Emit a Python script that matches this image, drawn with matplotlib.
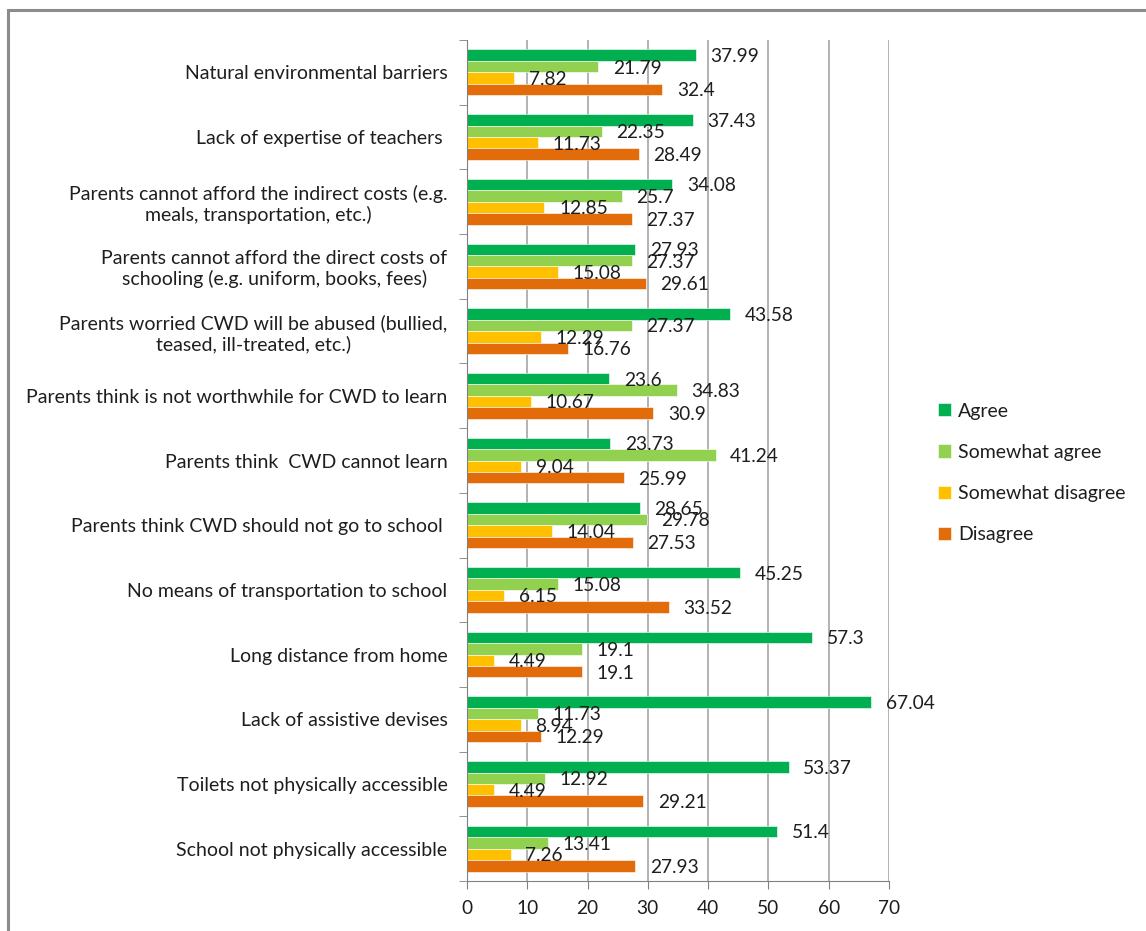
import matplotlib
matplotlib.use("Agg")
import matplotlib.pyplot as plt
import numpy as np
from matplotlib.patches import Rectangle

categories = [
    "Natural environmental barriers",
    "Lack of expertise of teachers ",
    "Parents cannot afford the indirect costs (e.g.\nmeals, transportation, etc.)",
    "Parents cannot afford the direct costs of\nschooling (e.g. uniform, books, fees)",
    "Parents worried CWD will be abused (bullied,\nteased, ill-treated, etc.)",
    "Parents think is not worthwhile for CWD to learn",
    "Parents think  CWD cannot learn",
    "Parents think CWD should not go to school ",
    "No means of transportation to school",
    "Long distance from home",
    "Lack of assistive devises",
    "Toilets not physically accessible",
    "School not physically accessible",
]
series_names = ["Agree", "Somewhat agree", "Somewhat disagree", "Disagree"]
agree = [37.99, 37.43, 34.08, 27.93, 43.58, 23.6, 23.73, 28.65, 45.25, 57.3, 67.04, 53.37, 51.4]
somewhat_agree = [21.79, 22.35, 25.7, 27.37, 27.37, 34.83, 41.24, 29.78, 15.08, 19.1, 11.73, 12.92, 13.41]
somewhat_disagree = [7.82, 11.73, 12.85, 15.08, 12.29, 10.67, 9.04, 14.04, 6.15, 4.49, 8.94, 4.49, 7.26]
disagree = [32.4, 28.49, 27.37, 29.61, 16.76, 30.9, 25.99, 27.53, 33.52, 19.1, 12.29, 29.21, 27.93]
x_ticks = [0, 10, 20, 30, 40, 50, 60, 70]

colors = ["#00B050", "#92D050", "#FFC000", "#E36C0A"]
series = [agree, somewhat_agree, somewhat_disagree, disagree]

plt.rcParams['font.family'] = ['Lato', 'DejaVu Sans']
TXT = "#1e1e1e"

fig = plt.figure(figsize=(11.46, 9.31), dpi=100)
W, H = 1146, 931
# outer border
fig.patches.append(Rectangle((8 / W, -0.1), 1.2, 1.1 - 10 / H, transform=fig.transFigure,
                             fill=False, edgecolor="#8c8c8c", linewidth=2.2))

ax = fig.add_axes([467 / W, 1 - 881 / H, (889 - 467) / W, (881 - 40) / H])
n = len(categories)
bar_h = 1 / 5.65
centers = np.arange(n)[::-1] + 0.5  # top category at top
for j, (vals, col, name) in enumerate(zip(series, colors, series_names)):
    y = centers + (1.5 - j) * bar_h
    ax.barh(y, vals, height=bar_h, color=col, label=name, edgecolor="white", linewidth=0.4)
    for yy, v in zip(y, vals):
        ax.annotate(f"{v:g}", (v, yy), xytext=(10.5, -1), textcoords="offset points",
                    ha="left", va="center", fontsize=13.8, color=TXT)

ax.set_xlim(0, 70)
ax.set_ylim(0, n)
ax.set_xticks(x_ticks)
ax.set_xticklabels([str(t) for t in x_ticks], fontsize=13.8, color=TXT)
ax.set_yticks(centers)
ax.set_yticklabels(categories, fontsize=14, color=TXT, ha="right", multialignment="center")
ax.tick_params(axis="y", length=0, pad=14)
ax.set_yticks(np.arange(n + 1), minor=True)
ax.tick_params(axis="y", which="minor", length=6, color="#808080", direction="out")
ax.tick_params(axis="x", length=6, color="#808080", direction="out", pad=8)
ax.grid(axis="x", color="#a6a6a6", linewidth=1.2)
ax.set_axisbelow(True)
for s in ["top", "right"]:
    ax.spines[s].set_visible(False)
ax.spines["left"].set_color("#808080")
ax.spines["bottom"].set_color("#808080")

handles, labels = ax.get_legend_handles_labels()
leg = fig.legend(handles, labels, loc="center left", bbox_to_anchor=(938 / W, 1 - 473 / H),
                 frameon=False, fontsize=14, handlelength=0.68, handleheight=0.68,
                 handletextpad=0.35, labelspacing=1.25, borderaxespad=0, borderpad=0)
for t in leg.get_texts():
    t.set_color(TXT)

fig.savefig("out.png", dpi=100)
